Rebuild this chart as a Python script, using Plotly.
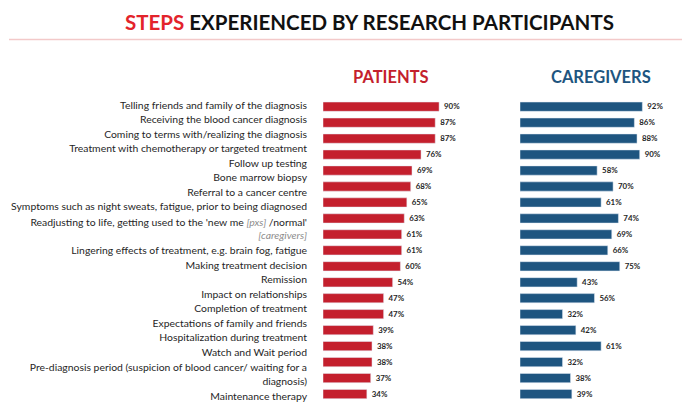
import plotly.graph_objects as go

categories = [
    "Telling friends and family of the diagnosis",
    "Receiving the blood cancer diagnosis",
    "Coming to terms with/realizing the diagnosis",
    "Treatment with chemotherapy or targeted treatment",
    "Follow up testing",
    "Bone marrow biopsy",
    "Referral to a cancer centre",
    "Symptoms such as night sweats, fatigue, prior to being diagnosed",
    "Readjusting to life, getting used to the 'new me <span style='color:#8c8c8c'><i>[pxs]</i></span> /normal'<br><span style='color:#8c8c8c'><i>[caregivers]</i></span>",
    "Lingering effects of treatment, e.g. brain fog, fatigue",
    "Making treatment decision",
    "Remission",
    "Impact on relationships",
    "Completion of treatment",
    "Expectations of family and friends",
    "Hospitalization during treatment",
    "Watch and Wait period",
    "Pre-diagnosis period (suspicion of blood cancer/ waiting for a<br>diagnosis)",
    "Maintenance therapy",
]
patients = [90, 87, 87, 76, 69, 68, 65, 63, 61, 61, 60, 54, 47, 47, 39, 38, 38, 37, 34]
caregivers = [92, 86, 88, 90, 58, 70, 61, 74, 69, 66, 75, 43, 56, 32, 42, 61, 32, 38, 39]

RED = "#C41F2D"
BLUE = "#1E5580"
TXT = "#262626"
LABEL_FONT = "Lato, sans-serif"

idx = list(range(len(categories)))

# label text block uses its own line pitch (slightly tighter than the bar pitch)
line_ratio = 14.55 / 15.96
line_offset = -0.107
tickvals = []
line = 0
for c in categories:
    n = c.count("<br>") + 1
    tickvals.append(line_offset + line_ratio * (line + (n - 1) / 2))
    line += n

fig = go.Figure()
fig.add_trace(go.Bar(
    x=patients, y=idx, orientation="h", marker=dict(color=RED),
    width=0.58, text=[f" {v}%" for v in patients], textposition="outside",
    textfont=dict(family=LABEL_FONT, size=8.5, color=TXT, weight="bold"),
    cliponaxis=False, xaxis="x", yaxis="y", showlegend=False,
))
fig.add_trace(go.Bar(
    x=caregivers, y=idx, orientation="h", marker=dict(color=BLUE),
    width=0.58, text=[f" {v}%" for v in caregivers], textposition="outside",
    textfont=dict(family=LABEL_FONT, size=8.5, color=TXT, weight="bold"),
    cliponaxis=False, xaxis="x2", yaxis="y2", showlegend=False,
))

W, H = 688, 412
top_px, bot_px = 98.7, 402.0
ydom = [1 - bot_px / H, 1 - top_px / H]

fig.update_layout(
    width=W, height=H, margin=dict(l=0, r=0, t=0, b=0, autoexpand=False),
    paper_bgcolor="white", plot_bgcolor="white",
    xaxis=dict(domain=[323 / W, 452 / W], range=[0, 100], visible=False, automargin=False),
    xaxis2=dict(domain=[520 / W, 653 / W], range=[0, 100], visible=False, automargin=False),
    yaxis=dict(domain=ydom, range=[18.5, -0.5], anchor="x", automargin=False,
               tickvals=tickvals, ticktext=categories,
               tickfont=dict(family=LABEL_FONT, size=10.4, color=TXT),
               ticklabelstandoff=15, showgrid=False, zeroline=False,
               showline=False, ticks=""),
    yaxis2=dict(domain=ydom, range=[18.5, -0.5], anchor="x2", automargin=False,
                showticklabels=False, showgrid=False, zeroline=False,
                showline=False, ticks=""),
    font=dict(family=LABEL_FONT, color=TXT),
    bargap=0.4,
)

fig.add_annotation(
    x=370 / W, y=1 - 22 / H, xref="paper", yref="paper", showarrow=False,
    text="<span style='color:#E3232B'>STEPS</span> EXPERIENCED BY RESEARCH PARTICIPANTS",
    font=dict(family=LABEL_FONT, size=20.5, color="#111111", weight="bold"),
    xanchor="center", yanchor="middle",
)
fig.add_shape(type="line", xref="paper", yref="paper",
              x0=9 / W, x1=682 / W, y0=1 - 39.5 / H, y1=1 - 39.5 / H,
              line=dict(color="#F3C9C9", width=1.5))
fig.add_annotation(
    x=391 / W, y=1 - 77 / H, xref="paper", yref="paper", showarrow=False,
    text="PATIENTS", font=dict(family=LABEL_FONT, size=16.5, color=RED, weight="bold"),
    xanchor="center", yanchor="middle",
)
fig.add_annotation(
    x=601 / W, y=1 - 77 / H, xref="paper", yref="paper", showarrow=False,
    text="CAREGIVERS", font=dict(family=LABEL_FONT, size=16.5, color=BLUE, weight="bold"),
    xanchor="center", yanchor="middle",
)

fig.write_html("out.html", config={"displayModeBar": False},
               post_script="document.body.style.margin='0';")
